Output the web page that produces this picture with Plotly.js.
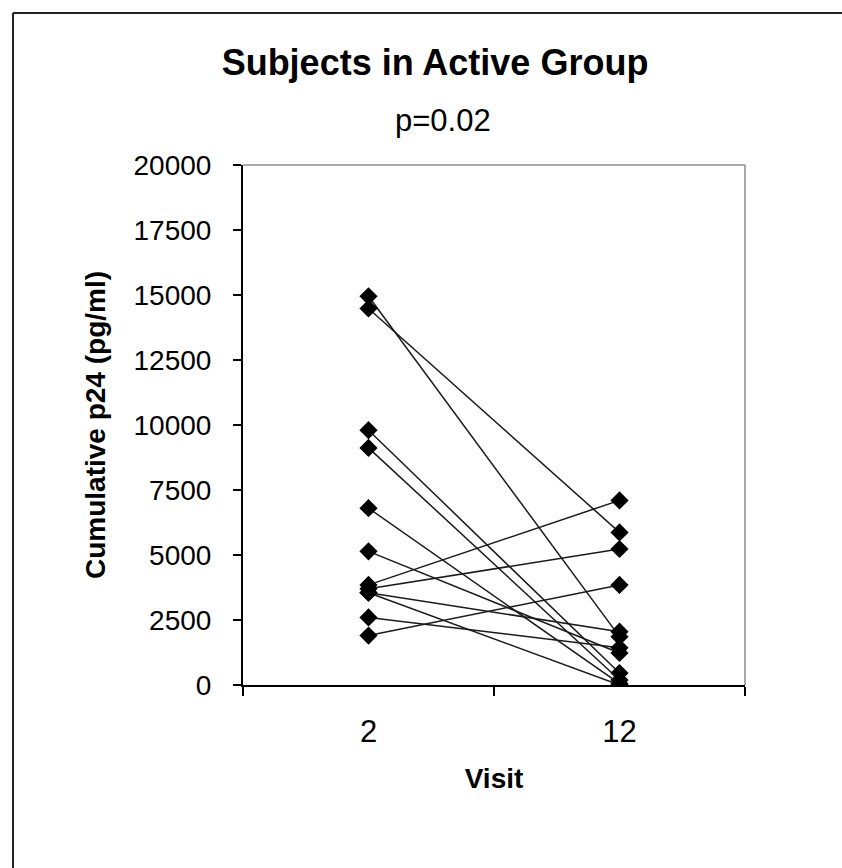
<!DOCTYPE html>
<html>
<head>
<meta charset="utf-8">
<script src="https://cdn.plot.ly/plotly-3.0.1.min.js"></script>
<style>
  html, body { margin: 0; padding: 0; background: #fff; }
  #chart { width: 842px; height: 868px; }
</style>
</head>
<body>
<div id="chart"></div>
<script>
// Data
const visits = ['2', '12'];
const visit2Values  = [14950, 14480, 9800, 9120, 6800, 5140, 3850, 3700, 3550, 3550, 2600, 1900];
const visit12Values = [1860, 5870, 460, 190, 50, 1230, 7100, 5230, 2050, 0, 1430, 3850];

const chartTitle = 'Subjects in Active Group';
const pValueText = 'p=0.02';
const xTitle = 'Visit';
const yTitle = 'Cumulative p24 (pg/ml)';
const yTickVals = [0, 2500, 5000, 7500, 10000, 12500, 15000, 17500, 20000];
const yTickText = ['0', '2500', '5000', '7500', '10000', '12500', '15000', '17500', '20000'];

const traces = visit2Values.map((v, i) => ({
  type: 'scatter',
  mode: 'lines+markers',
  x: visits,
  y: [v, visit12Values[i]],
  line: { color: '#1a1a1a', width: 1.5 },
  marker: { symbol: 'diamond', size: 14, color: '#000' },
  showlegend: false,
  hoverinfo: 'x+y'
}));

const L = 243, R = 745, T = 165, B = 685, W = 842, H = 868;
const pw = R - L, ph = B - T;
const px = X => (X - L) / pw;
const py = Y => (B - Y) / ph;

const layout = {
  width: W, height: H,
  margin: { l: L, r: W - R, t: T, b: H - B, pad: 0 },
  paper_bgcolor: '#fff',
  plot_bgcolor: '#fff',
  font: { family: 'Liberation Sans, Arial, sans-serif', color: '#000' },
  title: {
    text: '<b>' + chartTitle + '</b>',
    font: { size: 36, family: 'Liberation Sans, Arial, sans-serif', color: '#000' },
    xref: 'container', yref: 'container',
    x: 435 / W, xanchor: 'center',
    y: 1 - 62 / H, yanchor: 'middle'
  },
  annotations: [{
    text: pValueText,
    xref: 'paper', yref: 'paper',
    x: px(443), y: py(120),
    xanchor: 'center', yanchor: 'middle',
    showarrow: false,
    font: { size: 31, family: 'Liberation Sans, Arial, sans-serif', color: '#000' }
  }],
  xaxis: {
    type: 'category',
    range: [-0.5, 1.5],
    tickson: 'boundaries',
    ticks: 'outside', ticklen: 9, tickwidth: 1.5, tickcolor: '#000',
    showline: true, linecolor: '#000', linewidth: 2,
    showgrid: false, zeroline: false,
    tickfont: { size: 31, color: '#000' },
    ticklabelstandoff: 18,
    title: { text: '<b>' + xTitle + '</b>', font: { size: 28, color: '#000' }, standoff: 20 },
    fixedrange: true
  },
  yaxis: {
    range: [0, 20000],
    tickmode: 'array', tickvals: yTickVals, ticktext: yTickText,
    ticks: 'outside', ticklen: 8, tickwidth: 1.5, tickcolor: '#000',
    showline: true, linecolor: '#000', linewidth: 2,
    showgrid: false, zeroline: false,
    tickfont: { size: 28, color: '#000' },
    ticklabelstandoff: 16,
    title: { text: '<b>' + yTitle + '</b>', font: { size: 28, color: '#000' }, standoff: 20 },
    fixedrange: true
  },
  shapes: [
    { type: 'line', xref: 'paper', yref: 'paper', x0: 0, x1: 1, y0: 1, y1: 1, line: { color: '#8c8c8c', width: 1.5 } },
    { type: 'line', xref: 'paper', yref: 'paper', x0: 1, x1: 1, y0: 0, y1: 1, line: { color: '#8c8c8c', width: 1.5 } },
    { type: 'line', xref: 'paper', yref: 'paper', x0: px(13), x1: px(850), y0: py(13), y1: py(13), line: { color: '#222', width: 2 } },
    { type: 'line', xref: 'paper', yref: 'paper', x0: px(13), x1: px(13), y0: py(13), y1: py(880), line: { color: '#222', width: 2 } }
  ]
};

Plotly.newPlot('chart', traces, layout, { displayModeBar: false, staticPlot: true });
</script>
</body>
</html>
